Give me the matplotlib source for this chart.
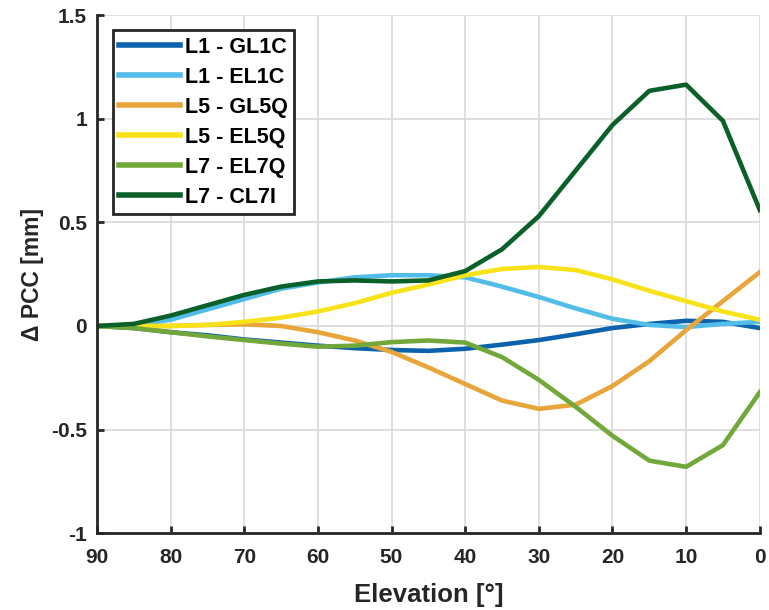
import numpy as np
import matplotlib
matplotlib.use('Agg')
from matplotlib import pyplot as plt

# elevation grid (deg) and PCC differences (mm)
elev = [90, 85, 80, 75, 70, 65, 60, 55, 50, 45, 40, 35, 30, 25, 20, 15, 10, 5, 0]

gl1c = [0, -0.01, -0.03, -0.045, -0.065, -0.08, -0.095, -0.107, -0.116, -0.12, -0.11, -0.09, -0.068, -0.04, -0.01, 0.01, 0.025, 0.02, -0.01]
el1c = [0, 0.005, 0.03, 0.08, 0.13, 0.18, 0.21, 0.235, 0.245, 0.245, 0.235, 0.19, 0.14, 0.085, 0.035, 0.005, -0.005, 0.01, 0.02]
gl5q = [0, 0, 0, 0.005, 0.008, 0.0, -0.03, -0.07, -0.125, -0.2, -0.28, -0.36, -0.4, -0.38, -0.29, -0.17, -0.02, 0.12, 0.26]
el5q = [0, 0, 0, 0.005, 0.02, 0.04, 0.07, 0.11, 0.16, 0.2, 0.245, 0.275, 0.285, 0.27, 0.225, 0.17, 0.12, 0.07, 0.03]
el7q = [0, -0.01, -0.03, -0.05, -0.068, -0.085, -0.1, -0.095, -0.078, -0.07, -0.08, -0.15, -0.26, -0.39, -0.53, -0.65, -0.68, -0.575, -0.32]
cl7i = [0, 0.01, 0.05, 0.1, 0.15, 0.19, 0.215, 0.22, 0.215, 0.22, 0.265, 0.37, 0.53, 0.75, 0.97, 1.135, 1.165, 0.99, 0.56]

labels = ['L1 - GL1C', 'L1 - EL1C', 'L5 - GL5Q', 'L5 - EL5Q', 'L7 - EL7Q', 'L7 - CL7I']
series = [gl1c, el1c, gl5q, el5q, el7q, cl7i]
colors = ['#0b62ad', '#52bde8', '#e8a63a', '#f8e21a', '#72a83a', '#0a6028']

plt.rcParams['font.family'] = ['Liberation Sans', 'DejaVu Sans']
plt.rcParams['font.weight'] = 'bold'

fig = plt.figure(figsize=(7.69, 6.10), dpi=100)
ax = fig.add_axes([0.126, 0.126, 0.862, 0.849])

for y, lab, c in zip(series, labels, colors):
    ax.plot(elev, y, color=c, lw=3.3, label=lab)

ax.set_xlim(90, 0)
ax.set_ylim(-1, 1.5)
ax.set_xticks(np.arange(90, -1, -10))
ax.set_yticks([-1, -0.5, 0, 0.5, 1, 1.5])
ax.set_yticklabels(['-1', '-0.5', '0', '0.5', '1', '1.5'])
ax.grid(True, color='#d9d9d9', lw=1.2)
ax.set_axisbelow(True)
for s in ['top', 'right']:
    ax.spines[s].set_visible(False)
for s in ['left', 'bottom']:
    ax.spines[s].set_linewidth(2)
    ax.spines[s].set_color('#262626')
ax.tick_params(direction='in', length=5, width=2, labelsize=15, colors='#262626')
ax.tick_params(axis='x', pad=11)
ax.tick_params(axis='y', pad=7)
for t in ax.get_xticklabels() + ax.get_yticklabels():
    t.set_fontweight('bold')

ax.set_xlabel('Elevation [°]', fontsize=18.5, fontweight='bold', color='#262626', labelpad=11)
ax.set_ylabel('Δ PCC [mm]', fontsize=16.5, fontweight='bold', color='#262626', labelpad=5)

leg = ax.legend(loc='upper left', bbox_to_anchor=(0.024, 0.971), fontsize=15.5,
                handlelength=2.8, handletextpad=0.25, labelspacing=0.42,
                borderpad=0.3, borderaxespad=0, fancybox=False, framealpha=1)
leg.get_frame().set_edgecolor('#262626')
leg.get_frame().set_linewidth(2)
for t in leg.get_texts():
    t.set_fontweight('bold')
for h in leg.get_lines():
    h.set_linewidth(4)

plt.savefig('out.png', dpi=100)
